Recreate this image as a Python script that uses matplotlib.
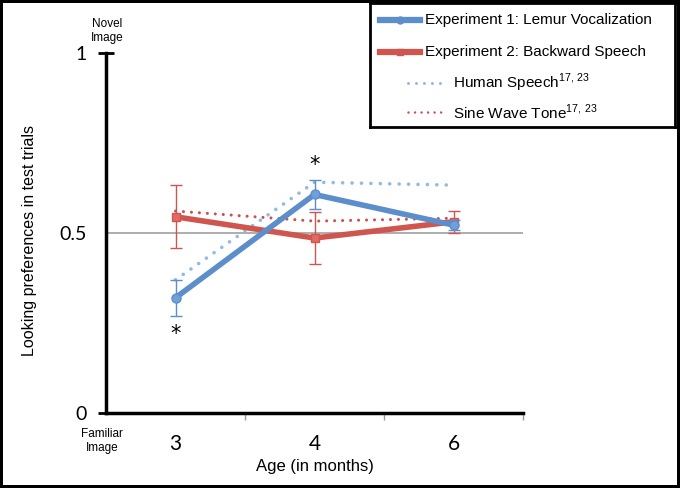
import matplotlib
matplotlib.use("Agg")
import matplotlib.pyplot as plt
from matplotlib.lines import Line2D

plt.rcParams['font.family'] = ['Liberation Sans', 'DejaVu Sans']
plt.rcParams['mathtext.fontset'] = 'custom'
plt.rcParams['mathtext.rm'] = 'Liberation Sans'

# ---- data ----
ages = ["3", "4", "6"]
exp1_lemur = [0.32, 0.607, 0.522]
exp1_err = [0.05, 0.039, 0.015]
exp2_backward = [0.545, 0.486, 0.531]
exp2_err = [0.087, 0.071, 0.03]
human_speech = [0.37, 0.641, 0.633]
sine_tone = [0.561, 0.533, 0.541]
star_ages = ["3", "4"]
star_values = [0.22, 0.69]
y_ticks = [0, 0.5, 1]
y_tick_labels = ["0", "0.5", "1"]

blue = '#5b8ecb'
red = '#d0554f'
blue_dot = '#94b9e3'
red_dot = '#c9504c'
dots = (0, (0.01, 2.6))

fig = plt.figure(figsize=(6.8, 4.88), dpi=100)
fig.patch.set_edgecolor('black')
fig.patch.set_linewidth(4)

ax = fig.add_axes([106/680, 1-413/488, (523-106)/680, (413-53)/488])
xpos = [i + 0.5 for i in range(len(ages))]
ax.set_xlim(0, 3)
ax.set_ylim(0, 1)

ax.axhline(0.5, color='#a0a0a0', lw=1.2, zorder=1)

ax.plot(xpos, human_speech, linestyle=dots, color=blue_dot, lw=2.6,
        dash_capstyle='round', zorder=2)
ax.plot(xpos, sine_tone, linestyle=dots, color=red_dot, lw=2.2,
        dash_capstyle='round', zorder=2)

ax.errorbar(xpos, exp2_backward, yerr=exp2_err, color=red, lw=4, marker='s',
            ms=6, mfc='#e06a64', mec=red, ecolor=red, elinewidth=1,
            capsize=4, capthick=1, zorder=3)
ax.errorbar(xpos, exp1_lemur, yerr=exp1_err, color=blue, lw=4, marker='o',
            ms=6.5, mfc='#6fa0da', mec=blue, ecolor=blue, elinewidth=1,
            capsize=4, capthick=1, zorder=4)

for a, v in zip(star_ages, star_values):
    ax.text(ages.index(a) + 0.5, v, '*', ha='center', va='center',
            fontsize=15, color='black', family='DejaVu Sans')

for s in ['top', 'right']:
    ax.spines[s].set_visible(False)
ax.spines['left'].set_linewidth(2.5)
ax.spines['bottom'].set_linewidth(2.5)

ax.set_xticks([1, 2, 3])
ax.set_xticklabels([])
ax.tick_params(axis='x', which='major', direction='out', length=5,
               color='#999999', width=1)
ax.set_xticks(xpos, minor=True)
ax.set_xticklabels(ages, minor=True, family='Lato', fontsize=15)
ax.tick_params(axis='x', which='minor', length=0, pad=15)

ax.set_yticks(y_ticks)
ax.set_yticklabels(y_tick_labels, family='Lato', fontsize=14)
ax.tick_params(axis='y', direction='inout', length=12, width=2, pad=8)
ax.yaxis.get_major_ticks()[1].tick1line.set_visible(False)

ax.set_xlabel('Age (in months)', fontsize=12, labelpad=4)
ax.set_ylabel('Looking preferences in test trials', fontsize=11.5)
ax.yaxis.set_label_coords(-0.165, 0.478)

fig.text(107/680, 1-31/488, 'Novel\nImage', ha='center', va='center',
         fontsize=8.5, linespacing=1.15)
fig.text(102/680, 1-441/488, 'Familiar\nImage', ha='center', va='center',
         fontsize=8.5, linespacing=1.15)

# ---- legend box ----
lax = fig.add_axes([370/680, 1-127/488, (675-370)/680, 124/488])
lax.set_xlim(0, 305)
lax.set_ylim(124, 0)
lax.set_xticks([])
lax.set_yticks([])
for s in lax.spines.values():
    s.set_linewidth(2)
rows = [17, 49, 80, 109]
lax.add_line(Line2D([10, 50], [rows[0]] * 2, color=blue, lw=4.5))
lax.plot([30], [rows[0]], marker='o', color=blue, ms=5)
lax.add_line(Line2D([10, 50], [rows[1]] * 2, color=red, lw=4.5))
lax.plot([30], [rows[1]], marker='s', color=red, ms=5)
lax.add_line(Line2D([38, 72], [rows[2]] * 2, color=blue_dot, lw=2.2,
                    linestyle=dots, dash_capstyle='round'))
lax.add_line(Line2D([38, 72], [rows[3]] * 2, color=red_dot, lw=1.8,
                    linestyle=dots, dash_capstyle='round'))
lax.text(55, rows[0], 'Experiment 1: Lemur Vocalization', va='center',
         fontsize=11)
lax.text(55, rows[1], 'Experiment 2: Backward Speech', va='center',
         fontsize=11)
lax.text(83, rows[2], r'Human Speech$^{\mathrm{17,\,23}}$', va='center',
         fontsize=11)
lax.text(83, rows[3], r'Sine Wave Tone$^{\mathrm{17,\,23}}$', va='center',
         fontsize=11)

fig.savefig('out.png', dpi=100, edgecolor=fig.get_edgecolor())
